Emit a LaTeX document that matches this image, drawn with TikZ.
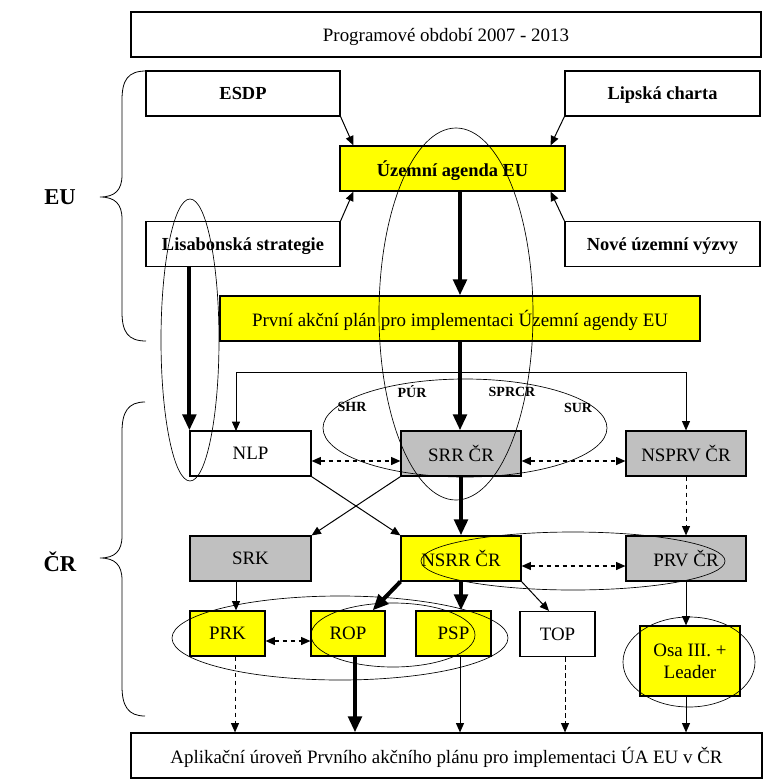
\documentclass[tikz,border=0pt]{standalone}
\usepackage{fontspec}
\setmainfont{Liberation Serif}
\usepackage{tikz}
\usetikzlibrary{arrows.meta}
\usetikzlibrary{calc}

\definecolor{boxgrey}{HTML}{C0C0C0}
\definecolor{boxyellow}{HTML}{FFFF00}

\begin{document}
\begin{tikzpicture}[x=0.75pt,y=-0.75pt,
	ar/.style={-{Triangle[length=7pt,width=6pt]},line width=0.75pt},
	thickar/.style={-{Triangle[length=12pt,width=10pt]},line width=3pt},
	dashar/.style={{Triangle[length=7pt,width=6pt]}-{Triangle[length=7pt,width=6pt]},line width=0.9pt,dash pattern=on 3.5pt off 2.5pt},
	dashdown/.style={-{Triangle[length=7pt,width=6pt]},line width=0.75pt,dash pattern=on 3.5pt off 2.5pt},
	ring/.style={line width=0.5pt},
	bracket/.style={line width=0.6pt}]
	\useasboundingbox (0,0) rectangle (764,783);

	\begin{scope}[every node/.style={draw,line width=0.9pt,minimum height=33.75pt,inner sep=2pt,text depth=0pt,font=\fontsize{14.2}{16.5}\selectfont}]
		\node[minimum width=472.5pt] (prog) at (446,34.5) {Programové období 2007 - 2013};
		\node[minimum width=145.5pt,font=\fontsize{13.8}{16}\selectfont\bfseries] (esdp) at (243,93.5) {ESDP};
		\node[minimum width=146.25pt,font=\fontsize{13.8}{16}\selectfont\bfseries] (lipska) at (662.5,93.5) {Lipská charta};
		\node[minimum width=168.75pt,fill=boxyellow,font=\fontsize{13.8}{16}\selectfont\bfseries] (uzemni) at (452.5,168.5) {Územní agenda EU};
		\node[minimum width=145.5pt,font=\fontsize{13.8}{16}\selectfont\bfseries] (lisabon) at (243,244) {Lisabonská strategie};
		\node[minimum width=146.25pt,font=\fontsize{13.8}{16}\selectfont\bfseries] (nove) at (662.5,244) {Nové územní výzvy};
		\node[minimum width=360pt,fill=boxyellow] (prvni) at (460,318.5) {První akční plán pro implementaci Územní agendy EU};

		\node[minimum width=90.75pt] (nlp) at (250.5,453.5) {NLP};
		\node[minimum width=90pt,fill=boxgrey] (srr) at (461,453.5) {SRR ČR};
		\node[minimum width=90pt,fill=boxgrey] (nsprv) at (686,453.5) {NSPRV ČR};
		\node[minimum width=90.75pt,fill=boxgrey] (srk) at (250.5,558.5) {SRK};
		\node[minimum width=90pt,fill=boxyellow] (nsrr) at (461,558.5) {NSRR ČR};
		\node[minimum width=90pt,fill=boxgrey] (prv) at (686,558.5) {PRV ČR};

		\node[minimum width=56.25pt,fill=boxyellow] (prk) at (227.5,633.5) {PRK};
		\node[minimum width=55.5pt,fill=boxyellow] (rop) at (348,633.5) {ROP};
		\node[minimum width=56.25pt,fill=boxyellow] (psp) at (453.5,633.5) {PSP};
		\node[minimum width=56.25pt] (topbox) at (557.5,634) {TOP};
		\node[minimum width=75pt,minimum height=52.5pt,fill=boxyellow,align=center] (osa) at (690,661) {Osa III. +\\Leader};

		\node[minimum width=473.25pt] (apl) at (446.5,755.5) {Aplikační úroveň Prvního akčního plánu pro implementaci ÚA EU v ČR};
	\end{scope}

	% EU / CR brackets
	\draw[bracket] (146,71) .. controls (128,71) and (122,80) .. (122,100) -- (122,175)
		.. controls (122,190) and (115,197) .. (100,197)
		.. controls (115,197) and (122,204) .. (122,219) -- (122,312)
		.. controls (122,332) and (128,341) .. (146,341);
	\draw[bracket] (145,402) .. controls (128,402) and (122,412) .. (122,432) -- (122,536)
		.. controls (122,551) and (115,558) .. (100,558)
		.. controls (115,558) and (122,565) .. (122,580) -- (122,686)
		.. controls (122,706) and (128,716) .. (145,716);
	\node[font=\fontsize{17}{20}\selectfont\bfseries] (eu) at (60,197) {EU};
	\node[font=\fontsize{17}{20}\selectfont\bfseries] (cr) at (60,562) {ČR};

	% rings
	\draw[ring] (190,340) ellipse [x radius=29,y radius=141];
	\draw[ring] (456,314) ellipse [x radius=77,y radius=186];
	\draw[ring] (465,428) ellipse [x radius=142,y radius=49];
	\draw[ring] (573,561) ellipse [x radius=152,y radius=29];
	\draw[ring] (340,638) ellipse [x radius=168,y radius=42];
	\draw[ring] (393,635) ellipse [x radius=82,y radius=32];
	\draw[ring] (689,662) ellipse [x radius=66,y radius=45];

	\begin{scope}[every node/.style={font=\fontsize{10.5}{12}\selectfont\bfseries}]
		\node (shr) at (352,407) {SHR};
		\node (pur) at (412,392) {PÚR};
		\node (sprcr) at (512,392) {SPRCR};
		\node (sur) at (578,408) {SUR};
	\end{scope}

	\coordinate (split) at (460,372);
	\coordinate (nlpin) at (236,431);
	\coordinate (prkin) at ($(prk.north)+(8.5,0)$);
	\coordinate (prkout) at ($(prk.south)+(7.5,0)$);
	\coordinate (ropout) at ($(rop.south)+(7,0)$);
	\coordinate (pspout) at ($(psp.south)+(6.5,0)$);
	\coordinate (topout) at ($(topbox.south)+(7.5,0)$);
	\coordinate (osaout) at ($(osa.south)+(-4,0)$);

	\begin{scope}[every edge/.style={draw=black}]
		\path (esdp.south east) edge[ar] ($(uzemni.north west)+(14,0)$);
		\path (lipska.south west) edge[ar] ($(uzemni.north east)+(-15,0)$);
		\path (lisabon.north east) edge[ar] ($(uzemni.south west)+(14,0)$);
		\path (nove.north west) edge[ar] ($(uzemni.south east)+(-15,0)$);
		\path (prvni.north |- uzemni.south) edge[thickar] (prvni.north);
		\path (prvni.south) edge[thickar] (prvni.south |- srr.north);
		\path (nlp.north west |- lisabon.south) edge[thickar] (nlp.north west);
		\draw[ar] (split) -| (nlpin);
		\draw[ar] (split) -| (nsprv.north);

		\path ($(nlp.east)+(0,7.5)$) edge[dashar] ($(srr.west)+(0,7.5)$);
		\path ($(srr.east)+(0,7.5)$) edge[dashar] ($(nsprv.west)+(0,7.5)$);
		\path (nlp.south east) edge[ar] (nsrr.north west);
		\path (srr.south west) edge[ar] (srk.north east);
		\path (srr.south) edge[thickar] (nsrr.north);
		\path (nsprv.south) edge[dashdown] (prv.north);

		\path ($(nsrr.east)+(0,7.5)$) edge[dashar] ($(prv.west)+(0,7.5)$);
		\path (prkin |- srk.south) edge[ar] (prkin);
		\path (nsrr.south west) edge[thickar] ($(rop.north east)+(-13,0)$);
		\path (nsrr.south) edge[thickar] (nsrr.south |- psp.north);
		\path (nsrr.south east) edge[ar] ($(topbox.north)+(-8.5,0)$);
		\path (prv.south) edge[ar] (prv.south |- osa.north);
		\path ($(prk.east)+(0,7.5)$) edge[dashar] ($(rop.west)+(0,7.5)$);

		\path (prkout) edge[dashdown] (prkout |- apl.north);
		\path (ropout) edge[thickar] (ropout |- apl.north);
		\path (pspout) edge[ar] (pspout |- apl.north);
		\path (topout) edge[dashdown] (topout |- apl.north);
		\path (osaout) edge[ar] (osaout |- apl.north);
	\end{scope}
\end{tikzpicture}
\end{document}
